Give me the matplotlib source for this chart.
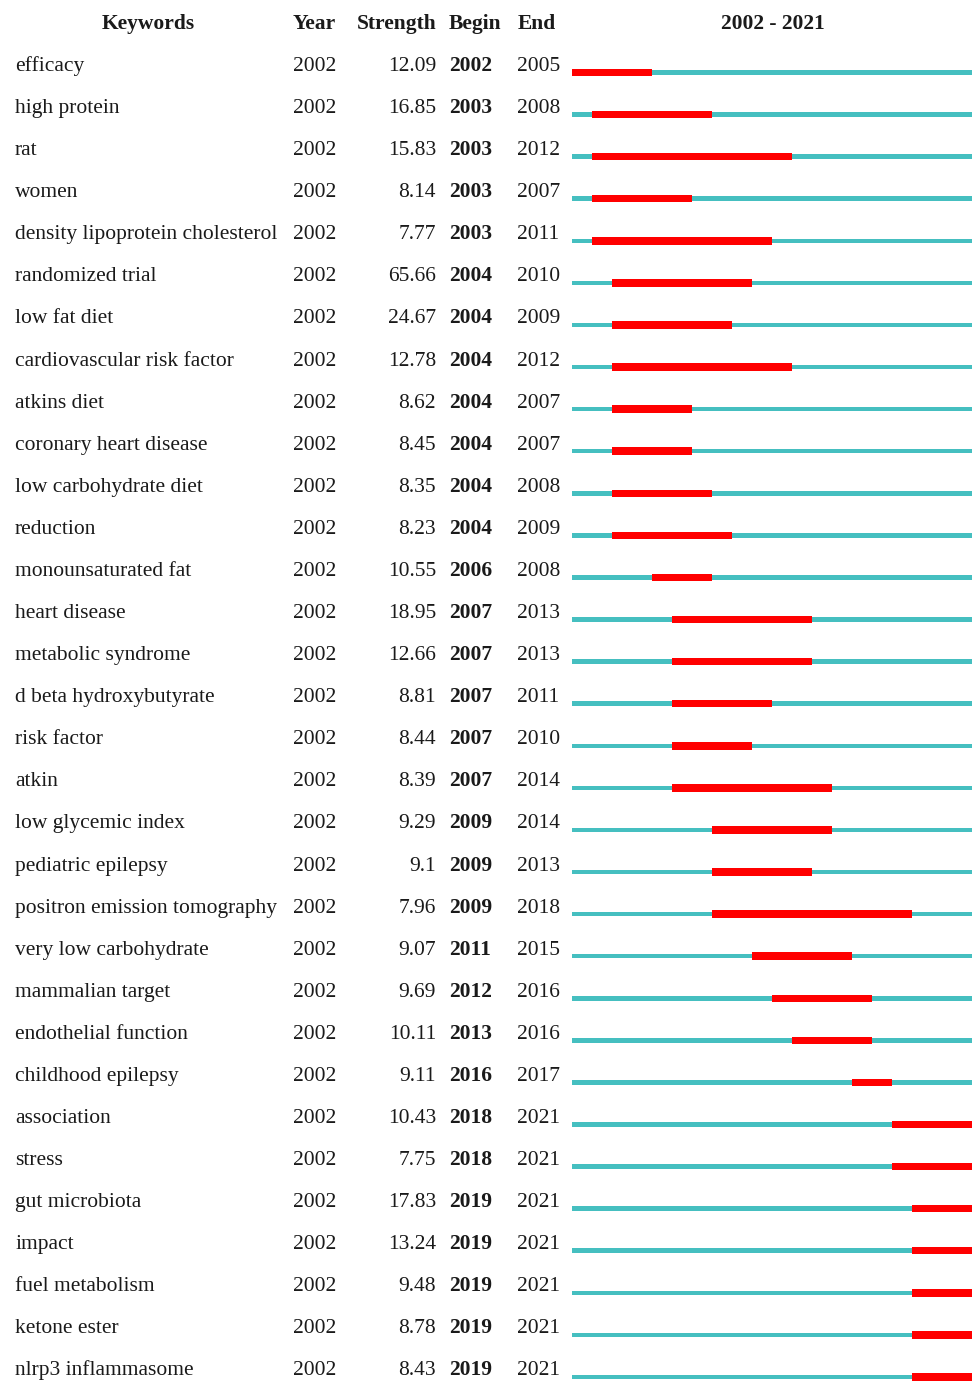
import matplotlib
matplotlib.use("Agg")
import matplotlib.pyplot as plt

keywords = ["efficacy", "high protein", "rat", "women", "density lipoprotein cholesterol",
            "randomized trial", "low fat diet", "cardiovascular risk factor", "atkins diet",
            "coronary heart disease", "low carbohydrate diet", "reduction", "monounsaturated fat",
            "heart disease", "metabolic syndrome", "d beta hydroxybutyrate", "risk factor", "atkin",
            "low glycemic index", "pediatric epilepsy", "positron emission tomography",
            "very low carbohydrate", "mammalian target", "endothelial function", "childhood epilepsy",
            "association", "stress", "gut microbiota", "impact", "fuel metabolism", "ketone ester",
            "nlrp3 inflammasome"]
year = [2002] * 32
strength = ["12.09", "16.85", "15.83", "8.14", "7.77", "65.66", "24.67", "12.78", "8.62", "8.45",
            "8.35", "8.23", "10.55", "18.95", "12.66", "8.81", "8.44", "8.39", "9.29", "9.1",
            "7.96", "9.07", "9.69", "10.11", "9.11", "10.43", "7.75", "17.83", "13.24", "9.48",
            "8.78", "8.43"]
begin = [2002, 2003, 2003, 2003, 2003, 2004, 2004, 2004, 2004, 2004, 2004, 2004, 2006, 2007, 2007,
         2007, 2007, 2007, 2009, 2009, 2009, 2011, 2012, 2013, 2016, 2018, 2018, 2019, 2019, 2019,
         2019, 2019]
end = [2005, 2008, 2012, 2007, 2011, 2010, 2009, 2012, 2007, 2007, 2008, 2009, 2008, 2013, 2013,
       2011, 2010, 2014, 2014, 2013, 2018, 2015, 2016, 2016, 2017, 2021, 2021, 2021, 2021, 2021,
       2021, 2021]
headers = ["Keywords", "Year", "Strength", "Begin", "End", "2002 - 2021"]
span_start, span_end = 2002, 2021

W, H = 972, 1383
fig = plt.figure(figsize=(W / 100, H / 100), dpi=100)
fig.patch.set_facecolor("white")

ROW = 42.08
Y0 = 64.0
top = -Y0 / ROW
bottom = (H - Y0) / ROW

# text axes in pixel-x, row-y
ax = fig.add_axes([0, 0, 1, 1])
ax.set_xlim(0, W)
ax.set_ylim(bottom, top)
ax.axis("off")

font = ["Liberation Serif", "DejaVu Serif"]
fs = 15.5
col = "#1a1a1a"
dy = 7.0 / ROW
hy = (29 - Y0) / ROW
kw_h = dict(va="baseline", fontsize=fs, fontweight="bold", family=font, color=col)
ax.text(148, hy, headers[0], ha="center", **kw_h)
ax.text(293, hy, headers[1], ha="left", **kw_h)
ax.text(437, hy, headers[2], ha="right", **kw_h)
ax.text(449, hy, headers[3], ha="left", **kw_h)
ax.text(518, hy, headers[4], ha="left", **kw_h)
ax.text(773, hy, headers[5], ha="center", **kw_h)

kw_t = dict(va="baseline", fontsize=fs, family=font, color=col)
for i, kw in enumerate(keywords):
    y = i + dy
    ax.text(15, y, kw, ha="left", **kw_t)
    ax.text(293, y, str(year[i]), ha="left", **kw_t)
    ax.text(436, y, strength[i], ha="right", **kw_t)
    ax.text(449, y, str(begin[i]), ha="left", fontweight="bold", **kw_t)
    ax.text(517, y, str(end[i]), ha="left", **kw_t)

# timeline axes
x0 = 572 / W
ax2 = fig.add_axes([x0, 0, 1 - x0, 1])
ax2.set_xlim(span_start, span_end + 1)
ax2.set_ylim(bottom, top)
ax2.axis("off")
ax2.patch.set_alpha(0)

rows = list(range(len(keywords)))
off = 8.5 / ROW
ypos = [r + off for r in rows]
ax2.barh(ypos, [span_end + 1 - span_start] * len(rows), left=span_start,
         height=4.5 / ROW, color="#45bfc0", linewidth=0)
ax2.barh(ypos, [e - b + 1 for b, e in zip(begin, end)], left=begin,
         height=7.5 / ROW, color="#ff0000", linewidth=0)

fig.savefig("out.png", dpi=100, facecolor="white")
